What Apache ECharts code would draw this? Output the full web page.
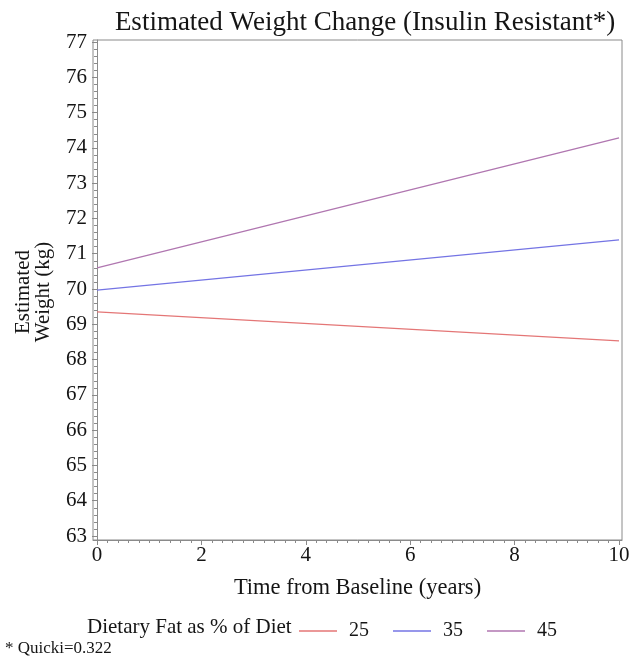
<!DOCTYPE html>
<html>
<head>
<meta charset="utf-8">
<script src="https://cdn.jsdelivr.net/npm/echarts@6/dist/echarts.min.js"></script>
<style>
html,body{margin:0;padding:0;background:#fff;}
#chart{width:629px;height:661px;}
</style>
</head>
<body>
<div id="chart"></div>
<script>
// Data
var years = [0, 10];
var fat25 = [69.35, 68.53];
var fat35 = [69.97, 71.39];
var fat45 = [70.60, 74.28];
var seriesNames = ['25', '35', '45'];
var yTicks = [63, 64, 65, 66, 67, 68, 69, 70, 71, 72, 73, 74, 75, 76, 77];
var xTicks = [0, 2, 4, 6, 8, 10];

function minorList(a, b, step) {
  var out = [];
  var n = Math.round((b - a) / step);
  for (var i = 0; i <= n; i++) out.push(+(a + i * step).toFixed(3));
  return out;
}
var yMinor = minorList(63, 77, 0.2);
var xMinor = minorList(0, 10, 0.2);

var serif = 'Liberation Serif';
var axisColor = '#8a8a8a';
var textColor = '#151515';
var colors = ['#e47676', '#7474e4', '#b076b0'];

function pairs(ys) { return years.map(function (x, i) { return [x, ys[i]]; }); }

var X_MIN = -0.077, X_MAX = 10.057, Y_MIN = 62.887, Y_MAX = 77.057;

var chart = echarts.init(document.getElementById('chart'));
chart.setOption({
  animation: false,
  backgroundColor: '#fff',
  title: {
    text: 'Estimated Weight Change (Insulin Resistant*)',
    left: 360, top: 4, textAlign: 'center',
    textStyle: { fontFamily: serif, fontSize: 27, fontWeight: 'normal', color: textColor }
  },
  grid: {
    left: 93, right: 7, top: 40, bottom: 121,
    outerBoundsMode: 'none', containLabel: false,
    show: true, borderColor: axisColor, borderWidth: 1, backgroundColor: 'transparent'
  },
  legend: {
    data: seriesNames,
    left: 294, top: 616,
    icon: 'rect', itemWidth: 38, itemHeight: 1.5, itemGap: 24,
    textStyle: { fontFamily: serif, fontSize: 20, color: textColor, padding: [0, 0, 0, 7] }
  },
  graphic: [
    { type: 'text', x: 87, y: 627,
      style: { text: 'Dietary Fat as % of Diet', fontFamily: serif, fontSize: 21, fill: textColor, verticalAlign: 'middle' } },
    { type: 'text', x: 5, y: 649,
      style: { text: '* Quicki=0.322', fontFamily: serif, fontSize: 17, fill: textColor, verticalAlign: 'middle' } },
    { type: 'text', x: 33, y: 292, rotation: Math.PI / 2,
      style: { text: 'Estimated\nWeight (kg)', fontFamily: serif, fontSize: 21, lineHeight: 20,
               fill: textColor, align: 'center', verticalAlign: 'middle' } }
  ],
  xAxis: [{
    type: 'value', min: X_MIN, max: X_MAX,
    name: 'Time from Baseline (years)', nameLocation: 'middle', nameGap: 37,
    nameTextStyle: { fontFamily: serif, fontSize: 22.5, color: textColor },
    axisLine: { show: true, lineStyle: { color: axisColor } },
    axisTick: { show: true, length: 5, customValues: xTicks, lineStyle: { color: axisColor } },
    axisLabel: { customValues: xTicks, fontFamily: serif, fontSize: 21, color: textColor, margin: 5 },
    splitLine: { show: false }
  }, {
    type: 'value', min: X_MIN, max: X_MAX, position: 'bottom',
    axisLine: { show: false },
    axisTick: { show: true, length: 3, customValues: xMinor, lineStyle: { color: axisColor } },
    axisLabel: { show: false },
    splitLine: { show: false }
  }],
  yAxis: [{
    type: 'value', min: Y_MIN, max: Y_MAX,
    axisLine: { show: true, lineStyle: { color: axisColor } },
    axisTick: { show: true, length: 5, customValues: yTicks, lineStyle: { color: axisColor } },
    axisLabel: { customValues: yTicks, fontFamily: serif, fontSize: 21, color: textColor, margin: 6 },
    splitLine: { show: false }
  }, {
    type: 'value', min: Y_MIN, max: Y_MAX, position: 'left',
    axisLine: { show: false },
    axisTick: { show: true, length: 3, customValues: yMinor, lineStyle: { color: axisColor } },
    axisLabel: { show: false },
    splitLine: { show: false }
  }],
  series: [
    { name: seriesNames[0], type: 'line', data: pairs(fat25), symbol: 'none',
      lineStyle: { width: 1.3, color: colors[0] }, itemStyle: { color: colors[0] } },
    { name: seriesNames[1], type: 'line', data: pairs(fat35), symbol: 'none',
      lineStyle: { width: 1.3, color: colors[1] }, itemStyle: { color: colors[1] } },
    { name: seriesNames[2], type: 'line', data: pairs(fat45), symbol: 'none',
      lineStyle: { width: 1.3, color: colors[2] }, itemStyle: { color: colors[2] } }
  ]
});
</script>
</body>
</html>
